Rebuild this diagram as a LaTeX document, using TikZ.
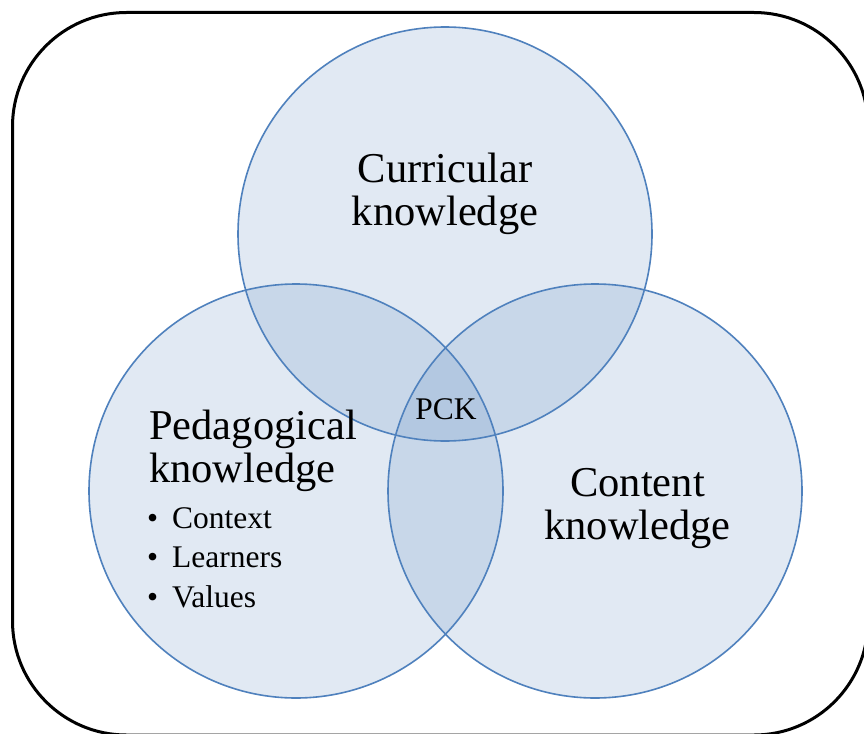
\documentclass[tikz,border=0pt]{standalone}
\usepackage{fontspec}
\setmainfont{Liberation Serif}
\definecolor{circline}{HTML}{4F81BD}
\begin{document}
\begin{tikzpicture}[x=1pt,y=-1pt,
  frame/.style={draw=black, line width=3pt, rounded corners=114pt},
  circfill/.style={circle, minimum size=414pt, inner sep=0pt, outer sep=0pt, fill=circline, fill opacity=0.17},
  circline/.style={draw=circline, line width=1.6pt},
  big/.style={font=\fontsize{42.5}{42.5}\selectfont, inner sep=0pt},
  small/.style={font=\fontsize{31.5}{39.5}\selectfont, inner sep=0pt}]
\useasboundingbox (0,0) rectangle (864,733);
\clip (0,0) rectangle (864,733);
\fill[white] (0,0) rectangle (864,733);
\draw[frame] (12.5,12.5) rectangle (868,735);
\node[circfill] (cur) at (445,234) {};
\node[circfill] (ped) at (296,491) {};
\node[circfill] (con) at (595,491) {};
\draw[circline] (cur.center) circle[radius=207pt];
\draw[circline] (ped.center) circle[radius=207pt];
\draw[circline] (con.center) circle[radius=207pt];
\node[big, anchor=base, align=center] (curt) at (445,225) {Curricular\\knowledge};
\node[big, anchor=base, align=center] (cont) at (637.5,539) {Content\\knowledge};
\node[big, anchor=base west, align=left] (pedt) at (149,482) {Pedagogical\\knowledge};
\node[small, anchor=base west, align=left] (items) at (147,607) {\makebox[25pt][l]{•}Context\\\makebox[25pt][l]{•}Learners\\\makebox[25pt][l]{•}Values};
\node[small, anchor=base] (pck) at (446,419) {PCK};
\end{tikzpicture}
\end{document}
